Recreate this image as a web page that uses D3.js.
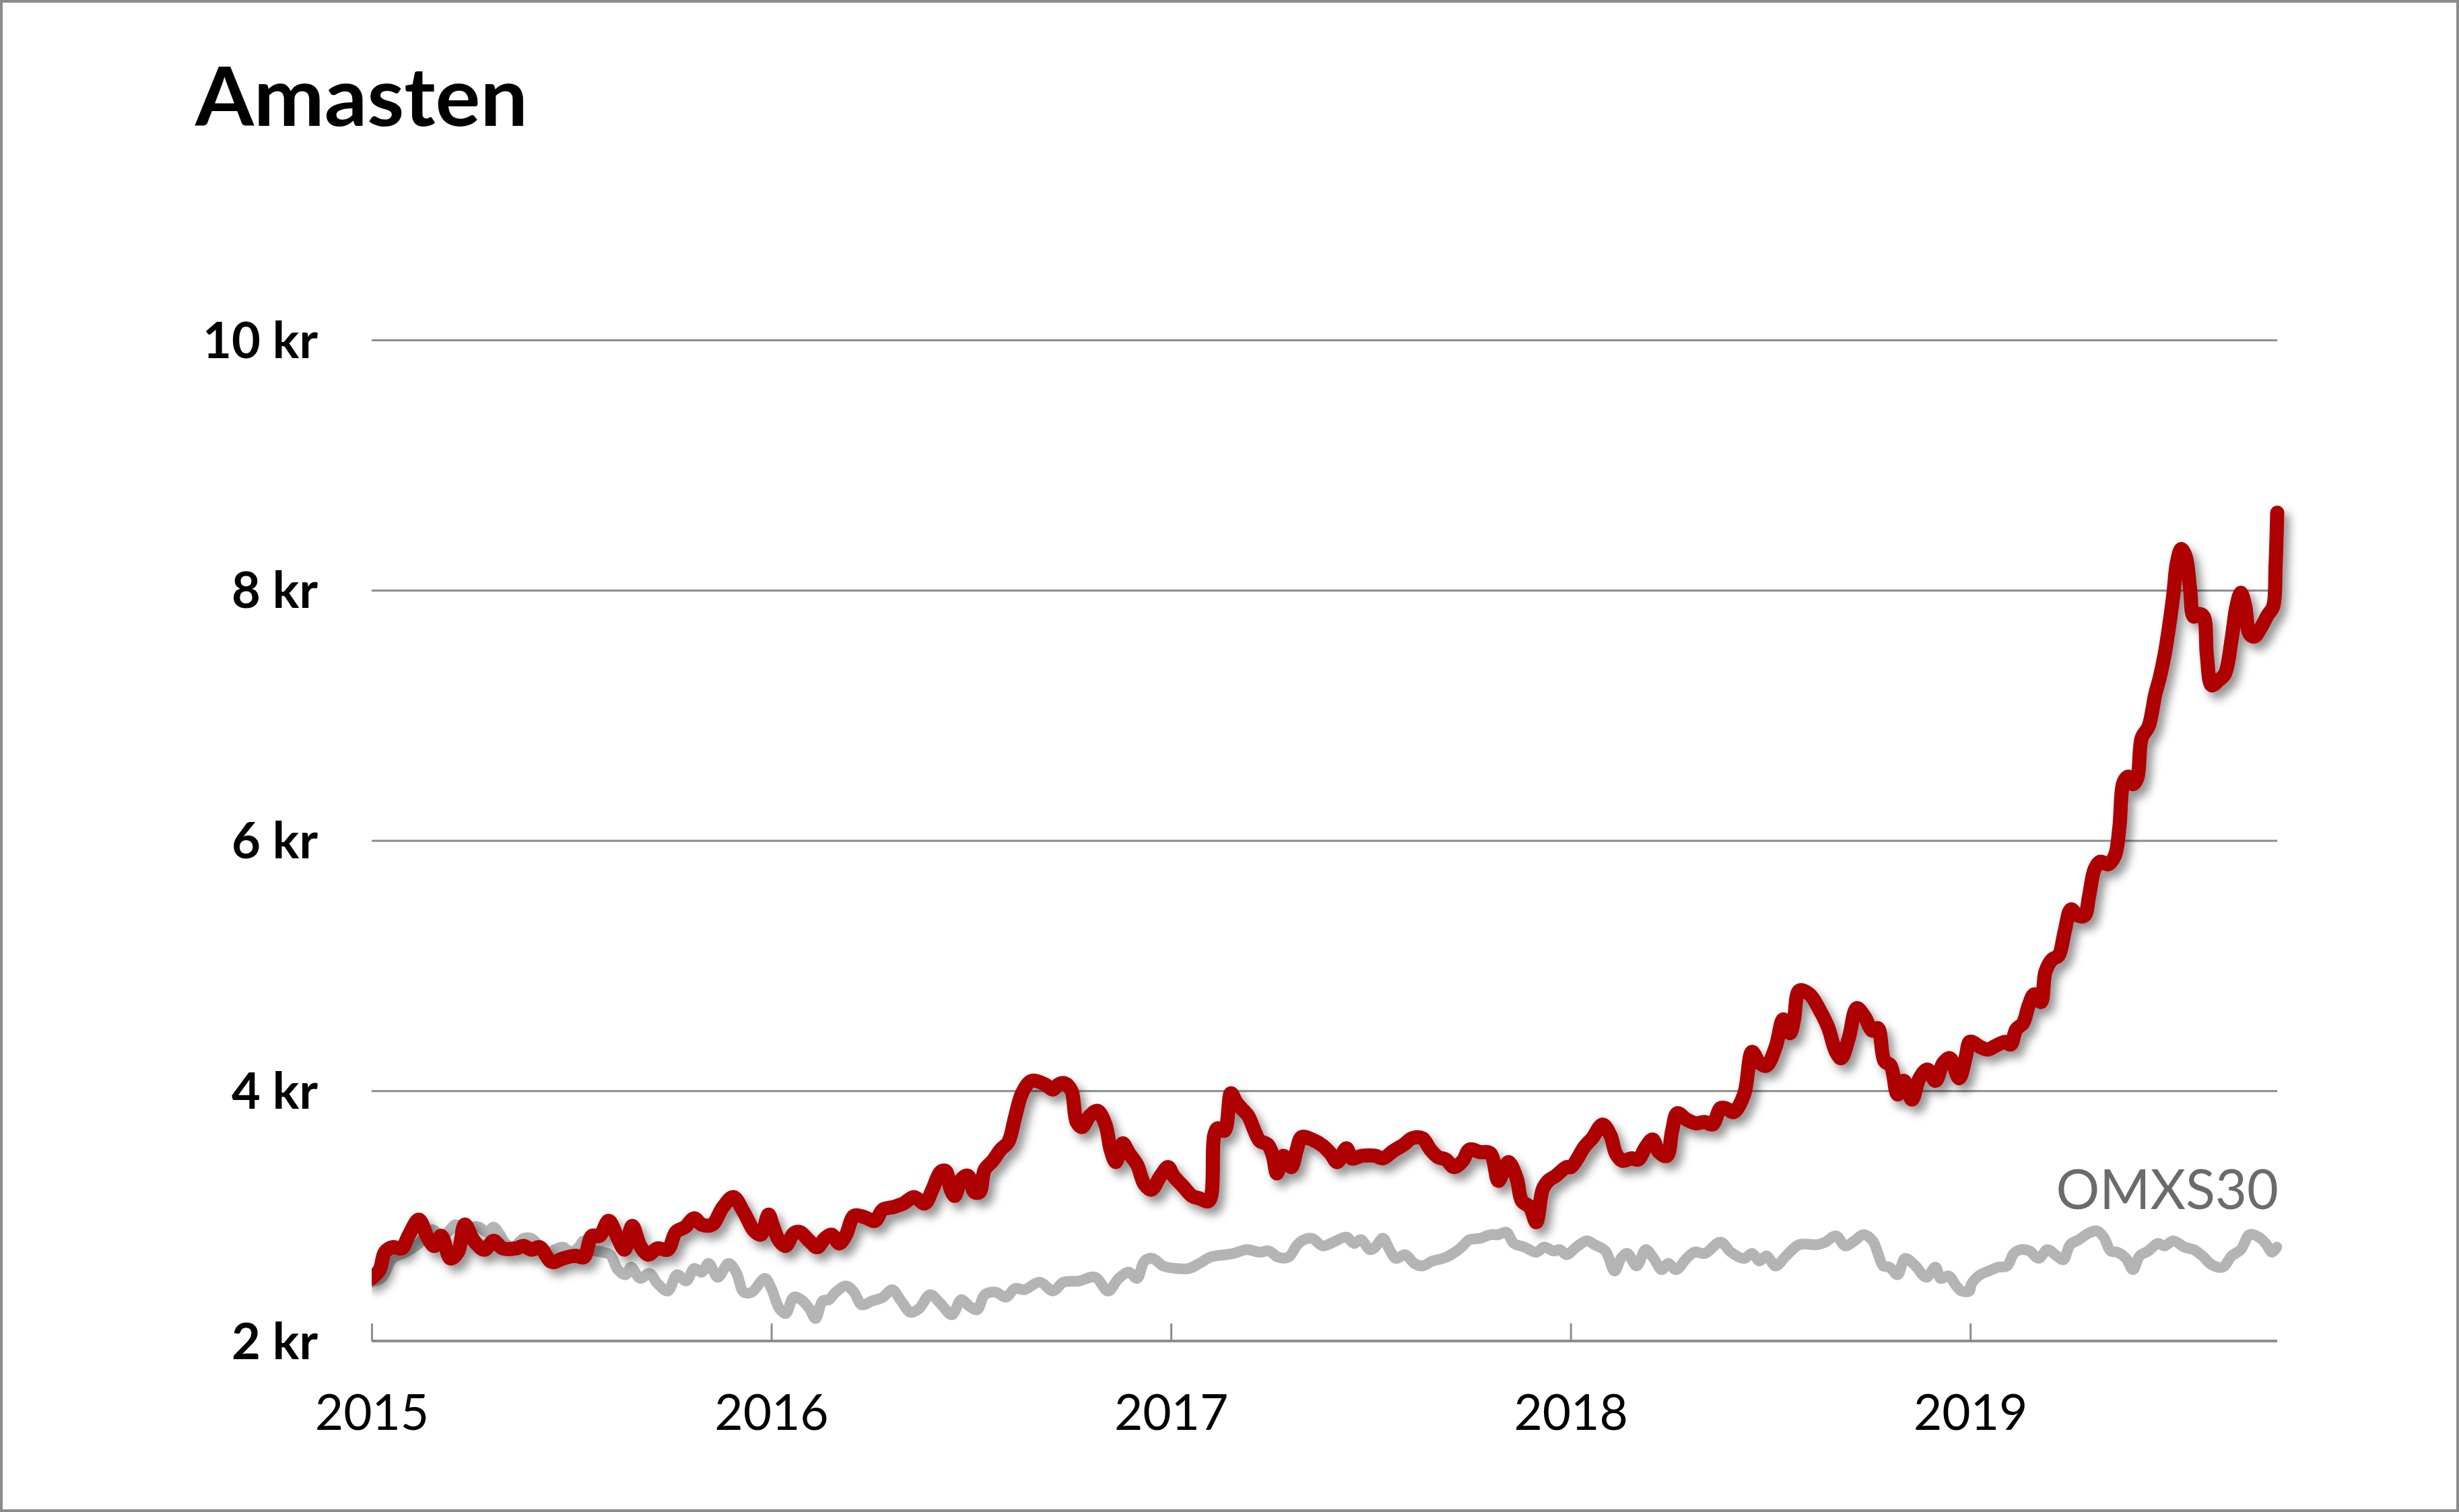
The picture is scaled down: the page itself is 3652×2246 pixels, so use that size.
<!DOCTYPE html>
<html><head><meta charset="utf-8">
<script src="https://cdn.jsdelivr.net/npm/d3@7"></script>
<style>html,body{margin:0;padding:0;background:#fff}</style>
</head><body>
<svg id="chart" width="3652" height="2246"></svg>
<script>
const chartTitle = "Amasten";
const indexLabel = "OMXS30";
const yearTicks = [2015, 2016, 2017, 2018, 2019];
const priceTicks = [2, 4, 6, 8, 10];
const xDomain = [2015, 2019.768];

// [decimal year, price in kr]
const amasten = [
[2015.000,2.50],[2015.020,2.57],[2015.033,2.71],[2015.053,2.75],[2015.075,2.74],[2015.092,2.84],[2015.118,2.97],[2015.141,2.82],[2015.157,2.76],[2015.174,2.84],[2015.197,2.66],[2015.216,2.71],[2015.233,2.93],[2015.256,2.80],[2015.282,2.73],[2015.305,2.80],[2015.328,2.74],[2015.361,2.74],[2015.380,2.76],[2015.400,2.73],[2015.420,2.75],[2015.446,2.64],[2015.456,2.63],[2015.479,2.66],[2015.511,2.68],[2015.531,2.67],[2015.551,2.84],[2015.570,2.84],[2015.593,2.96],[2015.616,2.82],[2015.633,2.73],[2015.652,2.92],[2015.672,2.76],[2015.692,2.69],[2015.715,2.74],[2015.741,2.73],[2015.761,2.87],[2015.784,2.91],[2015.807,2.98],[2015.826,2.93],[2015.852,2.93],[2015.879,3.07],[2015.905,3.15],[2015.931,3.03],[2015.957,2.88],[2015.974,2.85],[2015.993,3.01],
[2016.003,2.93],[2016.020,2.80],[2016.036,2.76],[2016.056,2.86],[2016.072,2.87],[2016.095,2.80],[2016.115,2.75],[2016.134,2.82],[2016.151,2.85],[2016.170,2.78],[2016.187,2.85],[2016.207,3.00],[2016.233,2.99],[2016.259,2.96],[2016.279,3.05],[2016.305,3.07],[2016.331,3.10],[2016.357,3.15],[2016.384,3.10],[2016.403,3.21],[2016.423,3.35],[2016.436,3.36],[2016.449,3.21],[2016.459,3.16],[2016.475,3.29],[2016.492,3.32],[2016.508,3.19],[2016.521,3.19],[2016.534,3.37],[2016.554,3.44],[2016.574,3.53],[2016.593,3.59],[2016.610,3.79],[2016.626,3.97],[2016.646,4.07],[2016.659,4.08],[2016.685,4.05],[2016.705,4.01],[2016.718,4.05],[2016.734,4.06],[2016.751,4.00],[2016.764,3.75],[2016.777,3.71],[2016.797,3.80],[2016.816,3.84],[2016.836,3.73],[2016.849,3.53],[2016.862,3.43],[2016.879,3.58],[2016.895,3.50],[2016.915,3.41],[2016.934,3.25],[2016.951,3.21],[2016.974,3.32],[2016.993,3.39],
[2017.006,3.32],[2017.032,3.23],[2017.052,3.16],[2017.071,3.14],[2017.095,3.12],[2017.108,3.64],[2017.117,3.70],[2017.134,3.68],[2017.150,3.98],[2017.163,3.91],[2017.176,3.86],[2017.193,3.80],[2017.209,3.68],[2017.222,3.60],[2017.242,3.57],[2017.255,3.48],[2017.265,3.34],[2017.281,3.48],[2017.301,3.39],[2017.314,3.52],[2017.327,3.63],[2017.353,3.61],[2017.380,3.56],[2017.399,3.50],[2017.416,3.43],[2017.439,3.54],[2017.452,3.46],[2017.478,3.48],[2017.511,3.48],[2017.530,3.46],[2017.557,3.52],[2017.583,3.57],[2017.603,3.62],[2017.629,3.62],[2017.649,3.53],[2017.668,3.47],[2017.688,3.45],[2017.708,3.39],[2017.730,3.44],[2017.747,3.53],[2017.773,3.51],[2017.799,3.50],[2017.819,3.28],[2017.832,3.36],[2017.845,3.43],[2017.865,3.30],[2017.878,3.12],[2017.898,3.07],[2017.914,2.95],[2017.930,3.21],[2017.944,3.28],[2017.963,3.32],[2017.990,3.39],
[2018.001,3.39],[2018.021,3.48],[2018.034,3.55],[2018.054,3.62],[2018.080,3.73],[2018.100,3.64],[2018.113,3.50],[2018.129,3.44],[2018.152,3.46],[2018.169,3.45],[2018.188,3.55],[2018.205,3.61],[2018.221,3.51],[2018.241,3.48],[2018.254,3.68],[2018.267,3.82],[2018.290,3.77],[2018.313,3.74],[2018.336,3.75],[2018.355,3.73],[2018.375,3.86],[2018.388,3.86],[2018.408,3.83],[2018.434,3.97],[2018.454,4.31],[2018.473,4.22],[2018.490,4.20],[2018.513,4.35],[2018.532,4.57],[2018.549,4.46],[2018.559,4.57],[2018.572,4.80],[2018.598,4.77],[2018.624,4.64],[2018.644,4.51],[2018.664,4.31],[2018.677,4.26],[2018.696,4.42],[2018.716,4.66],[2018.736,4.59],[2018.755,4.48],[2018.769,4.50],[2018.785,4.24],[2018.801,4.20],[2018.818,3.97],[2018.834,4.08],[2018.854,3.93],[2018.873,4.10],[2018.893,4.17],[2018.913,4.08],[2018.932,4.22],[2018.949,4.26],[2018.972,4.10],[2018.988,4.26],[2018.998,4.39],
[2019.005,4.39],[2019.025,4.35],[2019.044,4.33],[2019.064,4.36],[2019.087,4.39],[2019.101,4.37],[2019.115,4.49],[2019.132,4.54],[2019.146,4.68],[2019.160,4.77],[2019.177,4.71],[2019.188,4.95],[2019.205,5.05],[2019.221,5.08],[2019.236,5.27],[2019.252,5.45],[2019.269,5.40],[2019.286,5.40],[2019.297,5.55],[2019.311,5.77],[2019.325,5.83],[2019.345,5.81],[2019.362,5.88],[2019.373,6.10],[2019.384,6.47],[2019.396,6.51],[2019.407,6.45],[2019.418,6.50],[2019.429,6.82],[2019.446,6.91],[2019.463,7.17],[2019.474,7.30],[2019.486,7.48],[2019.497,7.70],[2019.508,7.96],[2019.517,8.22],[2019.528,8.33],[2019.539,8.27],[2019.550,8.01],[2019.559,7.79],[2019.573,7.81],[2019.584,7.79],[2019.592,7.48],[2019.604,7.24],[2019.621,7.28],[2019.637,7.33],[2019.654,7.61],[2019.666,7.87],[2019.677,7.98],[2019.688,7.87],[2019.699,7.65],[2019.711,7.63],[2019.727,7.70],[2019.744,7.80],[2019.758,7.87],[2019.764,8.20],[2019.768,8.62]
];

// OMXS30 rescaled to Amasten's starting price
const omxs30 = [
[2015.000,2.47],[2015.026,2.51],[2015.052,2.66],[2015.085,2.71],[2015.118,2.78],[2015.151,2.89],[2015.171,2.85],[2015.190,2.87],[2015.210,2.93],[2015.230,2.87],[2015.249,2.91],[2015.269,2.91],[2015.289,2.87],[2015.305,2.91],[2015.321,2.85],[2015.334,2.78],[2015.354,2.75],[2015.380,2.82],[2015.400,2.82],[2015.420,2.76],[2015.446,2.71],[2015.459,2.73],[2015.479,2.75],[2015.498,2.71],[2015.518,2.75],[2015.531,2.80],[2015.551,2.73],[2015.577,2.71],[2015.597,2.69],[2015.616,2.57],[2015.636,2.53],[2015.649,2.59],[2015.672,2.50],[2015.695,2.54],[2015.715,2.46],[2015.741,2.40],[2015.764,2.53],[2015.787,2.48],[2015.807,2.58],[2015.826,2.55],[2015.843,2.62],[2015.866,2.51],[2015.893,2.62],[2015.912,2.55],[2015.931,2.39],[2015.951,2.39],[2015.984,2.50],
[2016.000,2.42],[2016.020,2.26],[2016.036,2.22],[2016.056,2.35],[2016.075,2.33],[2016.095,2.26],[2016.111,2.18],[2016.128,2.32],[2016.144,2.33],[2016.161,2.39],[2016.187,2.44],[2016.207,2.39],[2016.226,2.29],[2016.252,2.32],[2016.279,2.35],[2016.302,2.41],[2016.325,2.32],[2016.348,2.23],[2016.370,2.26],[2016.397,2.37],[2016.423,2.30],[2016.452,2.21],[2016.475,2.33],[2016.495,2.28],[2016.515,2.25],[2016.534,2.37],[2016.561,2.39],[2016.587,2.35],[2016.610,2.42],[2016.633,2.41],[2016.672,2.47],[2016.705,2.40],[2016.731,2.47],[2016.770,2.48],[2016.810,2.51],[2016.843,2.40],[2016.869,2.50],[2016.895,2.55],[2016.915,2.50],[2016.934,2.64],[2016.954,2.66],[2016.980,2.60],
[2017.012,2.58],[2017.045,2.58],[2017.071,2.62],[2017.098,2.67],[2017.137,2.69],[2017.157,2.70],[2017.190,2.73],[2017.222,2.71],[2017.245,2.72],[2017.268,2.67],[2017.294,2.67],[2017.314,2.76],[2017.327,2.80],[2017.353,2.82],[2017.380,2.76],[2017.406,2.79],[2017.439,2.83],[2017.458,2.78],[2017.475,2.81],[2017.498,2.73],[2017.511,2.75],[2017.530,2.82],[2017.547,2.73],[2017.563,2.66],[2017.586,2.69],[2017.609,2.62],[2017.629,2.60],[2017.655,2.64],[2017.681,2.66],[2017.701,2.69],[2017.727,2.75],[2017.747,2.81],[2017.773,2.82],[2017.799,2.85],[2017.819,2.85],[2017.839,2.87],[2017.858,2.78],[2017.885,2.75],[2017.914,2.71],[2017.934,2.75],[2017.957,2.72],[2017.973,2.73],[2017.990,2.69],
[2018.014,2.75],[2018.041,2.80],[2018.060,2.77],[2018.087,2.72],[2018.110,2.56],[2018.126,2.66],[2018.142,2.70],[2018.165,2.60],[2018.188,2.73],[2018.208,2.66],[2018.228,2.57],[2018.244,2.62],[2018.264,2.57],[2018.290,2.66],[2018.310,2.71],[2018.336,2.70],[2018.375,2.79],[2018.401,2.71],[2018.434,2.66],[2018.454,2.70],[2018.473,2.64],[2018.490,2.68],[2018.513,2.60],[2018.539,2.68],[2018.572,2.77],[2018.618,2.77],[2018.637,2.79],[2018.664,2.84],[2018.687,2.76],[2018.710,2.80],[2018.733,2.85],[2018.756,2.80],[2018.769,2.70],[2018.782,2.60],[2018.798,2.59],[2018.818,2.53],[2018.837,2.66],[2018.860,2.61],[2018.890,2.51],[2018.913,2.59],[2018.926,2.50],[2018.946,2.52],[2018.965,2.44],[2018.978,2.40],[2018.998,2.40],
[2019.002,2.45],[2019.025,2.53],[2019.047,2.56],[2019.070,2.59],[2019.092,2.60],[2019.109,2.70],[2019.126,2.73],[2019.148,2.72],[2019.171,2.66],[2019.193,2.73],[2019.216,2.68],[2019.233,2.65],[2019.250,2.77],[2019.272,2.81],[2019.295,2.86],[2019.317,2.88],[2019.334,2.83],[2019.351,2.72],[2019.368,2.71],[2019.390,2.66],[2019.407,2.57],[2019.424,2.68],[2019.446,2.72],[2019.469,2.78],[2019.486,2.76],[2019.508,2.80],[2019.536,2.75],[2019.559,2.73],[2019.581,2.68],[2019.604,2.61],[2019.632,2.59],[2019.654,2.68],[2019.677,2.73],[2019.699,2.85],[2019.722,2.83],[2019.739,2.78],[2019.755,2.71],[2019.767,2.75]
];

const W = 3652, H = 2246;
const plot = {left: 552, right: 3382, top: 505, bottom: 1992};
const FONT = "Lato, 'Open Sans', 'Noto Sans', sans-serif";
const GRID = "#8c8c8c";

const svg = d3.select("#chart");
svg.append("rect").attr("width", W).attr("height", H).attr("fill", "#fff");
svg.append("rect").attr("x", 2).attr("y", 2).attr("width", W - 4).attr("height", H - 4)
  .attr("fill", "none").attr("stroke", "#8c8c8c").attr("stroke-width", 4);

const defs = svg.append("defs");
const f = defs.append("filter").attr("id", "shadow").attr("filterUnits", "userSpaceOnUse")
  .attr("x", 0).attr("y", 0).attr("width", W).attr("height", H);
f.append("feDropShadow").attr("dx", 8).attr("dy", 10).attr("stdDeviation", 7)
  .attr("flood-color", "#000").attr("flood-opacity", 0.42);
defs.append("clipPath").attr("id", "clip").append("rect")
  .attr("x", plot.left).attr("y", 0).attr("width", W - plot.left - 120).attr("height", H);

const x = d3.scaleLinear().domain(xDomain).range([plot.left, plot.right]);
const y = d3.scaleLinear().domain([2, 10]).range([plot.bottom, plot.top]);

// title
svg.append("text").attr("x", 290).attr("y", 187)
  .attr("font-family", FONT).attr("font-weight", 700).attr("font-size", 121)
  .attr("textLength", 494).attr("lengthAdjust", "spacingAndGlyphs")
  .attr("fill", "#000").text(chartTitle);

// y axis with gridlines
const yAxis = d3.axisLeft(y).tickValues(priceTicks)
  .tickSize(-(plot.right - plot.left)).tickPadding(80)
  .tickFormat(d => d + " kr");
const gy = svg.append("g").attr("transform", `translate(${plot.left},0)`).call(yAxis);
gy.select(".domain").remove();
gy.selectAll(".tick line").attr("stroke", GRID).attr("stroke-width", 3);
gy.selectAll(".tick text")
  .attr("font-family", FONT).attr("font-weight", 700).attr("font-size", 74)
  .attr("fill", "#000").attr("x", -80).attr("dy", 26).attr("text-anchor", "end");

// x axis
const xAxis = d3.axisBottom(x).tickValues(yearTicks).tickSize(-26).tickFormat(d3.format("d"));
const gx = svg.append("g").attr("transform", `translate(0,${plot.bottom})`).call(xAxis);
gx.select(".domain").attr("stroke", GRID).attr("stroke-width", 4).attr("d", `M${plot.left},0H${plot.right}`);
gx.selectAll(".tick line").attr("stroke", GRID).attr("stroke-width", 3);
gx.selectAll(".tick text")
  .attr("font-family", FONT).attr("font-weight", 400).attr("font-size", 73)
  .attr("fill", "#000").attr("y", 132).attr("dy", 0);

const line = d3.line().x(d => x(d[0])).y(d => y(d[1])).curve(d3.curveCatmullRom.alpha(0.5));

const lines = svg.append("g").attr("clip-path", "url(#clip)");
lines.append("path").datum(omxs30).attr("d", line)
  .attr("fill", "none").attr("stroke", "#b4b4b4").attr("stroke-width", 16)
  .attr("stroke-linejoin", "round").attr("stroke-linecap", "round");
lines.append("path").datum(amasten).attr("d", line)
  .attr("fill", "none").attr("stroke", "#ae0000").attr("stroke-width", 21)
  .attr("stroke-linejoin", "round").attr("stroke-linecap", "round")
  .attr("filter", "url(#shadow)");

// series label
svg.append("text").attr("x", 3384).attr("y", 1796).attr("text-anchor", "end")
  .attr("font-family", FONT).attr("font-size", 81).attr("fill", "#6b6b6b")
  .text(indexLabel);
</script>
</body></html>
